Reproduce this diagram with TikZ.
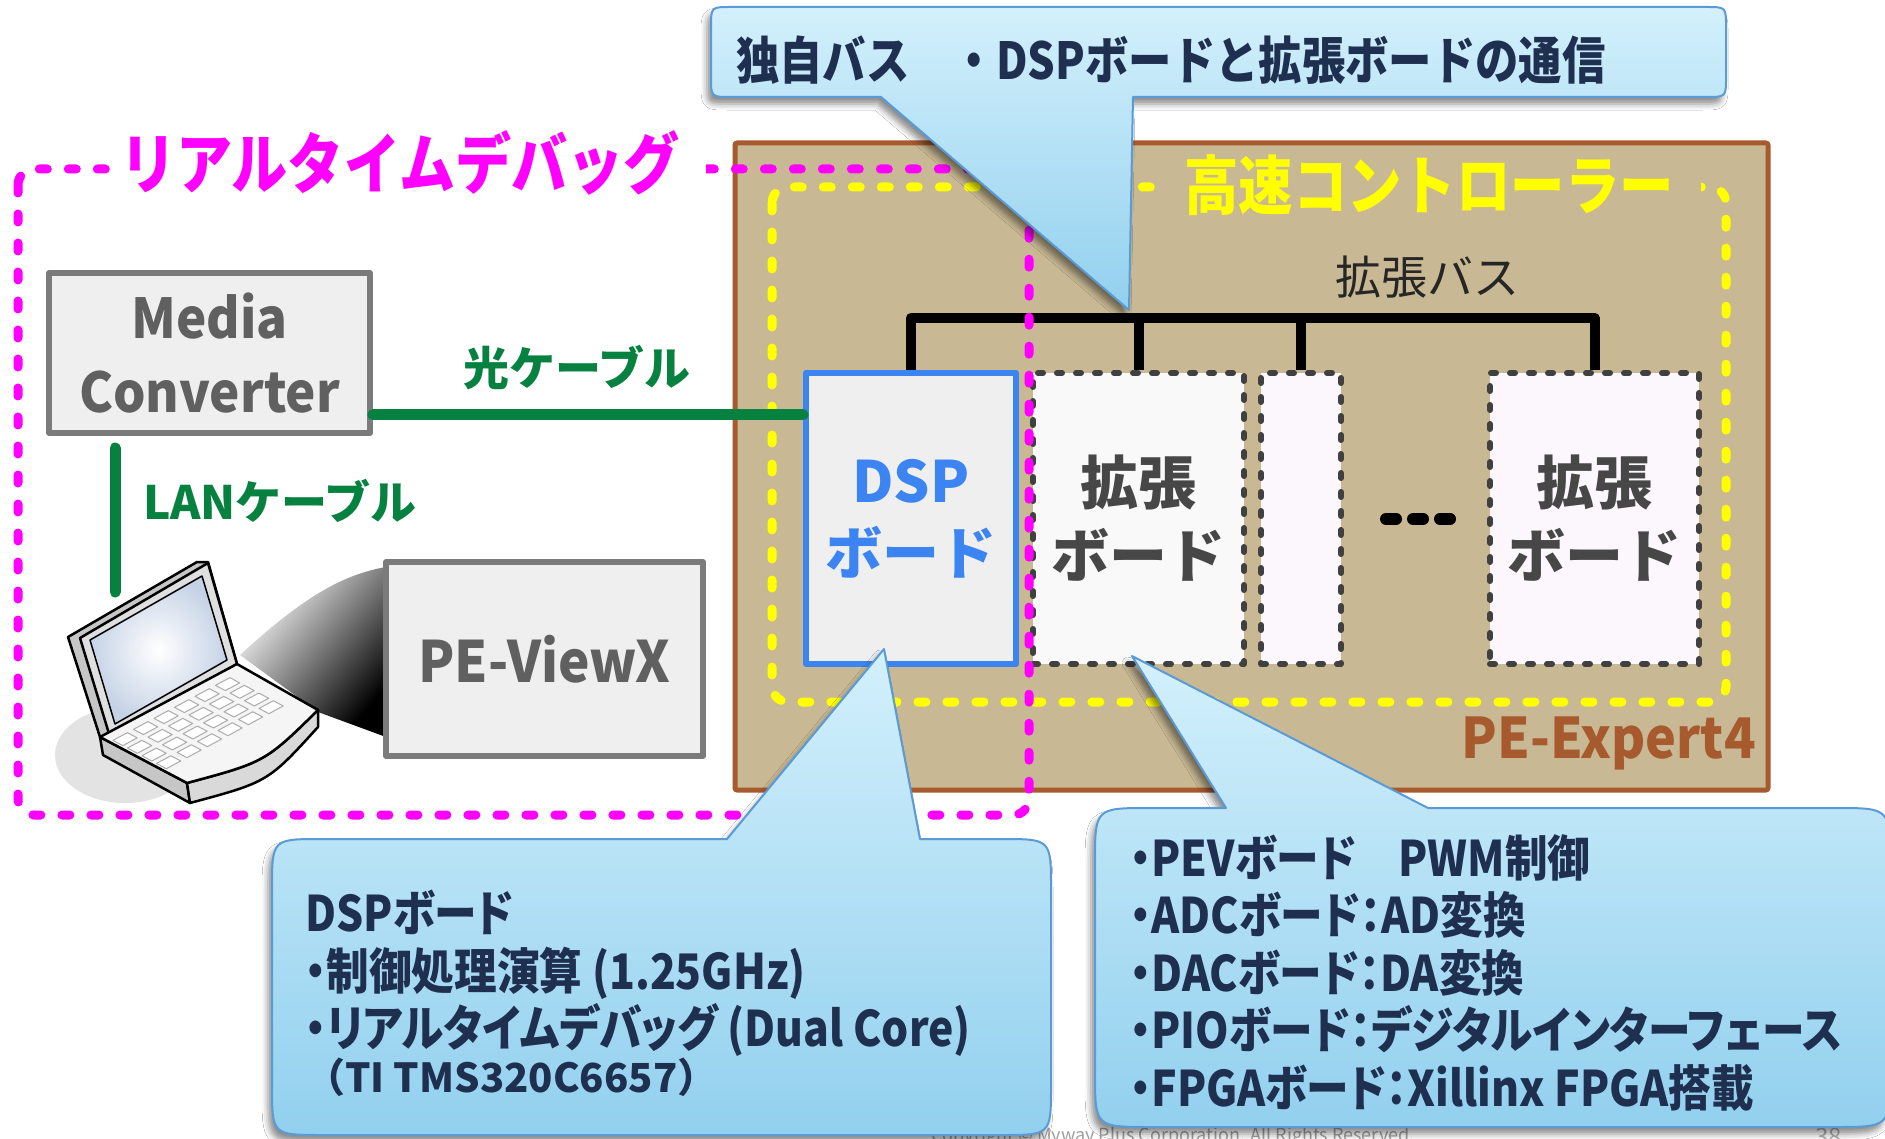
\documentclass[tikz,border=0pt]{standalone}
\usepackage{fontspec}
\newfontfamily\jpn{Noto Sans CJK JP}
\newfontfamily\jpm[FakeStretch=0.93]{Noto Sans CJK JP}
\newfontfamily\jpc[FakeStretch=0.85]{Noto Sans CJK JP}
\newfontfamily\jpp[FakeStretch=0.87,RawFeature=+palt]{Noto Sans CJK JP}
\usetikzlibrary{shadows.blur}
\definecolor{tanfill}{HTML}{C8B893}
\definecolor{peframe}{HTML}{A65A2D}
\definecolor{dbmag}{HTML}{FF00FF}
\definecolor{hsyel}{HTML}{FFFF00}
\definecolor{cablegreen}{HTML}{078140}
\definecolor{dspblue}{HTML}{3B84F2}
\definecolor{navy}{HTML}{1F2F4F}
\definecolor{boxline}{HTML}{7B7B7B}
\definecolor{boxfill}{HTML}{EFEFEF}
\definecolor{boxtext}{HTML}{606060}
\definecolor{extfill}{HTML}{F9F9F9}
\definecolor{pinkfill}{HTML}{FCF7FC}
\definecolor{dotline}{HTML}{404040}
\definecolor{boardtext}{HTML}{474747}
\definecolor{calltop}{HTML}{D3F0FC}
\definecolor{callbot}{HTML}{92D0EE}
\definecolor{callline}{HTML}{5B9BD5}
\definecolor{screenblue}{HTML}{C5D2E6}

\begin{document}
\begin{tikzpicture}[x=1pt,y=-1pt,line join=round,
  every node/.style={inner sep=0pt},
  dashframe/.style={line width=9pt,line cap=round,dash pattern=on 8pt off 21pt,rounded corners=16pt},
  unitbox/.style={draw=boxline,line width=6pt,fill=boxfill,text=boxtext,align=center,font=\jpm\bfseries\fontsize{55}{74}\selectfont},
  board/.style={draw=dotline,line width=6pt,line cap=round,dash pattern=on 5pt off 14pt,minimum height=291pt,align=center,text=boardtext,font=\jpn\bfseries\fontsize{58}{73}\selectfont},
  cablestyle/.style={draw=cablegreen,line width=11pt,line cap=round},
  cabletext/.style={text=cablegreen,font=\jpn\bfseries\fontsize{46}{46}\selectfont},
  bus/.style={line width=10pt},
  balloon/.style={draw=callline,line width=2pt,top color=calltop,bottom color=callbot,
    blur shadow={shadow xshift=-4pt,shadow yshift=-7pt,shadow blur radius=6pt,shadow opacity=45}},
  balloontext/.style={text=navy,align=left,font=\jpp\bfseries\fontsize{49}{57.5}\selectfont}]
\useasboundingbox (0,0) rectangle (1885,1139);
\clip (0,0) rectangle (1885,1139);
\fill[white] (0,0) rectangle (1885,1139);

% PE-Expert4 and high speed controller
\node[draw=peframe,line width=5pt,fill=tanfill,minimum width=1033pt,minimum height=647pt,rounded corners=2pt] (pe) at (1251.5,466.5) {};
\node[anchor=base east,text=peframe,font=\jpm\bfseries\fontsize{56}{56}\selectfont] (petext) at (1756,758) {PE-Expert4};
\draw[dashframe,draw=hsyel] (772,187) rectangle (1726,702);
\node[anchor=west,fill=tanfill,inner xsep=21pt,inner ysep=4pt,text width=496pt,align=left,text=hsyel,font=\jpc\bfseries\fontsize{64}{64}\selectfont] (hs) at (1163,185) {高速コントローラー};

% boards on the extension bus
\node[draw=dspblue,line width=6pt,fill=boxfill,minimum width=210pt,minimum height=291pt,align=center,text=dspblue,font=\jpn\bfseries\fontsize{57}{72}\selectfont] (dsp) at (911,518.5) {DSP\\ボード};
\node[board,fill=extfill,minimum width=211pt] (b1) at (1138.5,518.5) {拡張\\ボード};
\node[board,fill=pinkfill,minimum width=80pt] (b1b) at (1301,518.5) {};
\node[board,fill=pinkfill,minimum width=209pt] (b2) at (1594.5,518.5) {拡張\\ボード};
\coordinate (bus) at (0,318);
\draw[bus] (dsp.north) |- (bus -| b2.north) -- (b2.north);
\draw[bus] (b1.north) -- (b1.north |- bus);
\draw[bus] (b1b.north) -- (b1b.north |- bus);
\node[text=black!85,font=\jpn\fontsize{46}{46}\selectfont] (bustext) at (1427,277) {拡張バス};
\draw[line width=12pt,line cap=round,dash pattern=on 10pt off 17pt] (1386,519) -- (1450,519);

% real-time debugging range
\draw[dashframe,draw=dbmag] (18,169) rectangle (1029,815);
\node[anchor=west,fill=white,inner xsep=10pt,inner ysep=4pt,text width=576pt,align=left,text=dbmag,font=\jpc\bfseries\fontsize{66}{66}\selectfont] (rt) at (110,163) {リアルタイムデバッグ};

% host side
\node[unitbox,minimum width=321pt,minimum height=160pt] (mc) at (209.5,353) {Media\\Converter};
\shade[top color=white,middle color=gray!55,bottom color=black,shading angle=50] (240,655) .. controls (300,600) and (340,575) .. (386,567) -- (386,737) -- (318,712) -- cycle;
\node[unitbox,minimum width=317pt,minimum height=194pt,font=\jpm\bfseries\fontsize{57}{57}\selectfont] (pv) at (544.5,659) {PE-ViewX};
\coordinate (fib) at (0,415);
\coordinate (lan) at (115,592);
\draw[cablestyle] (mc.east |- fib) -- (dsp.west |- fib);
\draw[cablestyle,shorten <=12pt] (mc.south -| lan) -- (lan);
\node[cabletext] (fibtext) at (577,368) {光ケーブル};
\node[cabletext] (lantext) at (280,501) {LANケーブル};

% laptop
\fill[gray!22] (125,755) ellipse [x radius=70,y radius=48];
\filldraw[fill=gray!45,line width=2.5pt] (68,637) -- (197,562) -- (208,562) -- (237,664) -- (110,737) -- (100,737) -- cycle;
\filldraw[fill=gray!25,line width=2.5pt] (80,638) -- (208,563) -- (237,664) -- (110,737) -- cycle;
\draw[line width=1.5pt,inner color=white,outer color=screenblue] (90,640) -- (202,576) -- (227,660) -- (115,724) -- cycle;
\filldraw[fill=gray!45,line width=2.5pt] (100,737) -- (187,783) -- (190,803) -- (103,755) -- cycle;
\filldraw[fill=gray!30,line width=2.5pt] (187,783) .. controls (265,762) .. (318,710) -- (318,727) .. controls (268,782) .. (190,803) -- cycle;
\filldraw[fill=gray!8,line width=2.5pt] (100,737) -- (237,664) -- (318,710) .. controls (265,762) .. (187,783) -- cycle;
\begin{scope}[shift={(106,741)},x={(20.5pt,11pt)},y={(14.5pt,-7.7pt)}]
\foreach \i in {0,...,5}
  \foreach \j in {0,...,3}
    \filldraw[fill=white,draw=gray!65,line width=1pt] (\i+.2,\j+.2) -- ++(.7,0) -- ++(0,.68) -- ++(-.7,0) -- cycle;
\end{scope}

% footer
\node[anchor=base east,text=gray!75,font=\jpn\fontsize{18}{18}\selectfont] (copy) at (1415,1141) {Copyright © Myway Plus Corporation. All Rights Reserved.};
\node[anchor=base west,text=gray!60,font=\jpn\fontsize{24}{24}\selectfont] (page) at (1815,1145) {38};

% balloons
\draw[balloon] (881,97) -- (1129,310) -- (1133,97) -- (1706,97) .. controls (1726,97) .. (1726,77) -- (1726,27) .. controls (1726,7) .. (1706,7) -- (731,7) .. controls (711,7) .. (711,27) -- (711,77) .. controls (711,97) .. (731,97) -- cycle;
\node[balloontext,anchor=base west,font=\jpc\bfseries\fontsize{51}{51}\selectfont] (bustitle) at (736,80) {独自バス　・DSPボードと拡張ボードの通信};

\draw[balloon] (727,839) -- (884,649) -- (920,839) -- (1001,839) .. controls (1051,839) .. (1051,889) -- (1051,1085) .. controls (1051,1135) .. (1001,1135) -- (322,1135) .. controls (272,1135) .. (272,1085) -- (272,889) .. controls (272,839) .. (322,839) -- cycle;
\node[balloontext,anchor=north west] (dsptext) at (305,890) {DSPボード\\・制御処理演算 (1.25GHz)\\・リアルタイムデバッグ (Dual Core)\\[-12pt]{\jpn\bfseries\fontsize{40}{40}\selectfont （TI TMS320C6657）}};

\draw[balloon] (1226,808) -- (1132,656) -- (1428,808) -- (1835,808) .. controls (1890,808) .. (1890,863) -- (1890,1072) .. controls (1890,1127) .. (1835,1127) -- (1150,1127) .. controls (1095,1127) .. (1095,1072) -- (1095,863) .. controls (1095,808) .. (1150,808) -- cycle;
\node[balloontext,anchor=north west] (boardtext) at (1130,834) {・PEVボード　PWM制御\\・ADCボード：AD変換\\・DACボード：DA変換\\・PIOボード：デジタルインターフェース\\・FPGAボード：Xillinx FPGA搭載};
\end{tikzpicture}
\end{document}
